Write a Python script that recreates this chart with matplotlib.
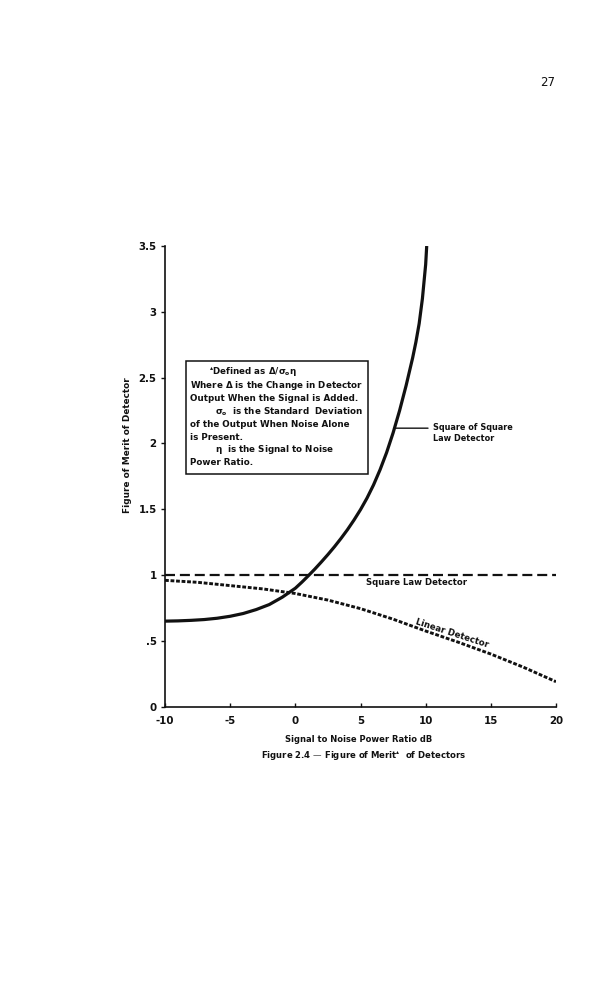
import matplotlib
matplotlib.use("Agg")
import matplotlib.pyplot as plt
from matplotlib.patches import Rectangle

# ---- data ----
snr_square_of_square = [-10, -9, -8, -7, -6, -5, -4, -3, -2, -1, 0, 0.5, 1, 1.5, 2, 2.5, 3, 3.5,
                        4, 4.5, 5, 5.5, 6, 6.5, 7, 7.5, 8, 8.5, 9, 9.25, 9.5, 9.75, 10, 10.08]
fom_square_of_square = [0.65, 0.652, 0.656, 0.662, 0.672, 0.687, 0.708, 0.738, 0.776, 0.832, 0.90, 0.946,
                        0.995, 1.046, 1.10, 1.156, 1.215, 1.278, 1.345, 1.418, 1.497, 1.585, 1.685, 1.80,
                        1.93, 2.08, 2.25, 2.44, 2.65, 2.77, 2.91, 3.10, 3.36, 3.5]

snr_square_law = [-10, 20]
fom_square_law = [1.0, 1.0]

snr_linear = [-10, -7.5, -5, -2.5, 0, 2.5, 5, 7.5, 10, 12.5, 15, 17.5, 20]
fom_linear = [0.96, 0.945, 0.92, 0.895, 0.86, 0.81, 0.745, 0.665, 0.575, 0.49, 0.40, 0.30, 0.19]

x_ticks = [-10, -5, 0, 5, 10, 15, 20]
x_tick_labels = ["-10", "-5", "0", "5", "10", "15", "20"]
y_ticks = [0, 0.5, 1, 1.5, 2, 2.5, 3, 3.5]
y_tick_labels = ["0", ".5", "1", "1.5", "2", "2.5", "3", "3.5"]

box_lines = [
    ("indent", "$^{\\blacktriangle}$Defined as $\\Delta/\\sigma_o\\eta$"),
    ("", "Where $\\Delta$ is the Change in Detector"),
    ("", "Output When the Signal is Added."),
    ("indent2", "$\\sigma_o$  is the Standard  Deviation"),
    ("", "of the Output When Noise Alone"),
    ("", "is Present."),
    ("indent2", "$\\eta$  is the Signal to Noise"),
    ("", "Power Ratio."),
]

plt.rcParams["font.family"] = ["DejaVu Sans"]
plt.rcParams["font.weight"] = "bold"
plt.rcParams["mathtext.fontset"] = "dejavusans"
plt.rcParams["mathtext.default"] = "bf"

W, H = 615, 1000
fig = plt.figure(figsize=(W / 100, H / 100), dpi=100)
fig.patch.set_facecolor("white")

def fx(px):
    return px / W

def fy(py):
    return 1 - py / H

ax_l, ax_r, ax_b, ax_t = 165, 556, 706.7, 246
ax = fig.add_axes([fx(ax_l), fy(ax_b), (ax_r - ax_l) / W, (ax_b - ax_t) / H])
ax.set_xlim(-10, 20)
ax.set_ylim(0, 3.5)

ink = "#111111"
ax.plot(snr_square_of_square, fom_square_of_square, color=ink, lw=2.3,
        solid_capstyle="butt", solid_joinstyle="round")
ax.plot(snr_square_law, fom_square_law, color=ink, lw=1.6, linestyle=(0, (4.5, 2.2)))
ax.plot(snr_linear, fom_linear, color=ink, lw=2.1, linestyle=(0, (1.3, 0.6)))

for s in ["top", "right"]:
    ax.spines[s].set_visible(False)
for s in ["left", "bottom"]:
    ax.spines[s].set_linewidth(1.2)
    ax.spines[s].set_color(ink)

ax.set_xticks(x_ticks)
ax.set_xticklabels(x_tick_labels, fontsize=7.4, fontweight="bold")
ax.set_yticks(y_ticks)
ax.set_yticklabels(y_tick_labels, fontsize=7.4, fontweight="bold")
ax.tick_params(axis="x", direction="in", length=3, width=1.0, pad=7, colors=ink)
ax.tick_params(axis="y", direction="out", length=3, width=1.0, pad=3, colors=ink)

# in-plot labels
ax.text(9.29, 0.94, "Square Law Detector", fontsize=6.1, fontweight="bold",
        ha="center", va="center", color=ink)
ax.text(12.0, 0.56, "Linear Detector", fontsize=6.2, fontweight="bold",
        ha="center", va="center", rotation=-18, rotation_mode="anchor", color=ink)
ax.annotate("", xy=(7.62, 2.116), xytext=(10.18, 2.116),
            arrowprops=dict(arrowstyle="-", lw=1.0, color=ink, shrinkA=0, shrinkB=0))
ax.text(10.57, 2.08, "Square of Square\nLaw Detector", fontsize=5.9, fontweight="bold",
        ha="left", va="center", linespacing=1.3, color=ink)

# definition box
bx0, by0, bx1, by1 = 186, 361, 368, 474
fig.patches.append(Rectangle((fx(bx0), fy(by1)), (bx1 - bx0) / W, (by1 - by0) / H,
                             transform=fig.transFigure, fill=False, lw=1.1, edgecolor=ink))
line_y = [371.7, 385.5, 398.5, 411.7, 424.8, 437.5, 450.0, 462.5]
for (kind, txt), py in zip(box_lines, line_y):
    px = 190
    if kind == "indent":
        px = 209
    elif kind == "indent2":
        px = 215
    fig.text(fx(px), fy(py), txt, fontsize=6.3, fontweight="bold", ha="left", va="center", color=ink)

# axis labels and caption
fig.text(fx(127), fy(445), "Figure of Merit of Detector", rotation=90, fontsize=6.4,
         fontweight="bold", ha="center", va="center", color=ink)
fig.text(fx(359), fy(740), "Signal to Noise Power Ratio dB", fontsize=6.0,
         fontweight="bold", ha="center", va="center", color=ink)
fig.text(fx(364), fy(755.5), "Figure 2.4 \u2014 Figure of Merit$^{\\blacktriangle}$  of Detectors", fontsize=6.1,
         fontweight="bold", ha="center", va="center", color=ink)

# page number
fig.text(fx(548), fy(82), "27", fontsize=8.5, fontweight="normal", ha="center", va="center",
         color=ink)

fig.savefig("out.png", dpi=100, facecolor="white")
